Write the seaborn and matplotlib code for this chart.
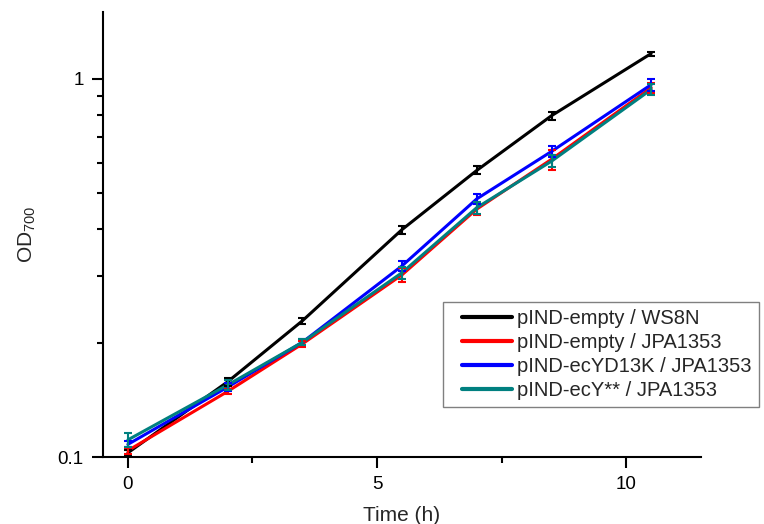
import numpy as np
import pandas as pd
import seaborn as sns
import matplotlib
matplotlib.use("Agg")
import matplotlib.pyplot as plt
from matplotlib.lines import Line2D
from matplotlib.legend_handler import HandlerLine2D
from matplotlib.ticker import NullFormatter, MultipleLocator

# growth curves, OD700 (mean and error) per strain
time_h = [0, 2, 3.5, 5.5, 7, 8.5, 10.5]
strains = ["pIND-empty / WS8N", "pIND-empty / JPA1353",
           "pIND-ecYD13K / JPA1353", "pIND-ecY** / JPA1353"]
od_ws8n = [0.1026, 0.158, 0.229, 0.399, 0.572, 0.798, 1.165]
od_empty = [0.104, 0.149, 0.199, 0.303, 0.452, 0.612, 0.946]
od_d13k = [0.108, 0.153, 0.201, 0.320, 0.481, 0.642, 0.964]
od_ystar = [0.111, 0.155, 0.201, 0.307, 0.456, 0.605, 0.936]
err_ws8n = [0.0019, 0.0039, 0.0042, 0.0097, 0.014, 0.019, 0.014]
err_empty = [0.0019, 0.0027, 0.0036, 0.013, 0.0165, 0.037, 0.029]
err_d13k = [0.002, 0.0037, 0.0037, 0.0098, 0.0147, 0.023, 0.035]
err_ystar = [0.0047, 0.0047, 0.0037, 0.011, 0.0166, 0.022, 0.029]
colors = ["#000000", "#ff0000", "#0000ff", "#008080"]

means = [od_ws8n, od_empty, od_d13k, od_ystar]
errs = [err_ws8n, err_empty, err_d13k, err_ystar]

df = pd.concat([pd.DataFrame({"time": time_h, "od": m, "err": e, "strain": s})
                for s, m, e in zip(strains, means, errs)], ignore_index=True)

sns.set_style("ticks")
plt.rcParams["font.family"] = ["Liberation Sans", "DejaVu Sans"]
plt.rcParams["mathtext.default"] = "regular"

fig = plt.figure(figsize=(7.64, 5.24), dpi=100)
ax = fig.add_axes([103/764, 1-457/524, (701-103)/764, (457-12)/524])

sns.lineplot(data=df, x="time", y="od", hue="strain", hue_order=strains,
             palette=colors, linewidth=2.2, ax=ax, estimator=None, sort=False)

#
# error bars per strain, same colours
#
for s, c in zip(strains, colors):
    d = df[df.strain == s]
    ax.errorbar(d.time, d.od, yerr=d.err, fmt="none", ecolor=c,
                elinewidth=1.5, capsize=3, capthick=1.5)

ax.set_yscale("log")
ax.set_xlim(-0.5, 11.5)
ax.set_ylim(0.1, 1.5)
ax.xaxis.set_major_locator(MultipleLocator(5))
ax.xaxis.set_minor_locator(MultipleLocator(2.5))
ax.set_yticks([0.1, 1], ["0.1", "1"])
ax.set_yticks([0.2, 0.3, 0.4, 0.5, 0.6, 0.7, 0.8, 0.9], minor=True)
ax.yaxis.set_minor_formatter(NullFormatter())

for side in ["top", "right"]:
    ax.spines[side].set_visible(False)
for side in ["left", "bottom"]:
    ax.spines[side].set_linewidth(1.5)
    ax.spines[side].set_color("black")
ax.tick_params(which="major", direction="out", length=8, width=1.5,
               labelsize=13.5, colors="black", pad=6)
ax.tick_params(which="minor", direction="out", length=4, width=1.5,
               colors="black")

ax.set_xlabel("Time (h)", fontsize=15, labelpad=9)
ax.set_ylabel("OD$_{700}$", fontsize=15, labelpad=14)

sns.move_legend(ax, "upper left", bbox_to_anchor=(443/764, 1-302/524),
                bbox_transform=fig.transFigure, title=None, fontsize=14.5,
                frameon=True, fancybox=False, edgecolor="#808080",
                borderaxespad=0, borderpad=0.37, handlelength=3.06,
                handletextpad=0.25, labelspacing=0.24,
                handler_map={Line2D: HandlerLine2D(xpad=0.58)})
leg = ax.get_legend()
leg.get_frame().set_linewidth(1.0)
leg.get_frame().set_alpha(1)
for h in leg.legend_handles:
    h.set_linewidth(3)

fig.savefig("out.png", dpi=100)
